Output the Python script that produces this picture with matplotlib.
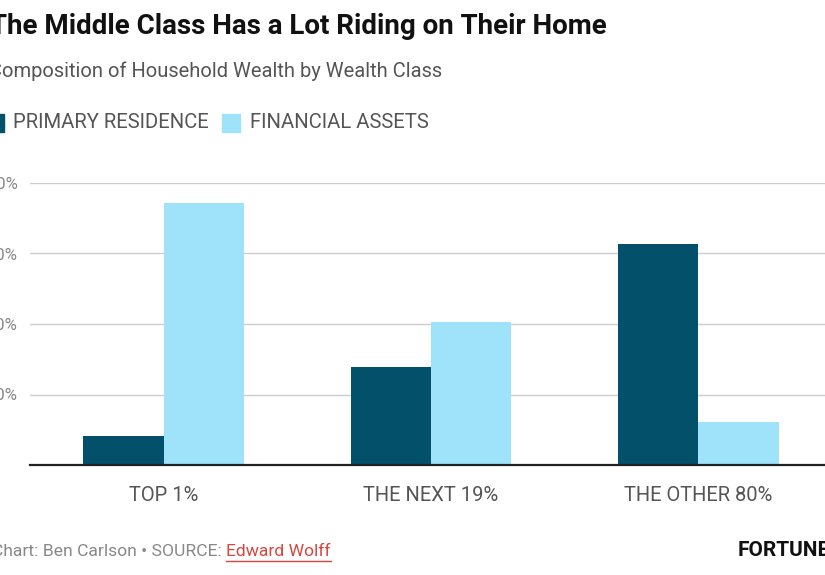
import matplotlib
matplotlib.use("Agg")
import matplotlib.pyplot as plt
import numpy as np

# data
groups = ["TOP 1%", "THE NEXT 19%", "THE OTHER 80%"]
primary_residence = [8.2, 27.8, 62.7]
financial_assets = [74.3, 40.6, 12.2]
y_ticks = [20, 40, 60, 80]
y_labels = ["20%", "40%", "60%", "80%"]

DARK = "#02506a"
LIGHT = "#9fe3fa"
FONT = "Roboto"
W, H = 825, 575


def px(x):
    return x / W


def py(y):
    return 1 - y / H


fig = plt.figure(figsize=(W / 100, H / 100), dpi=100)
ax = fig.add_axes([px(30), py(465), (832 - 30) / W, (465 - 183) / H])

x = np.arange(len(groups))
bw = 0.3
ax.bar(x - bw / 2, primary_residence, bw, color=DARK, zorder=3)
ax.bar(x + bw / 2, financial_assets, bw, color=LIGHT, zorder=3)

ax.set_xlim(-0.5, 2.5)
ax.set_ylim(0, 80)
ax.set_yticks(y_ticks, y_labels)
ax.set_xticks(x, groups)
ax.grid(axis="y", color="#cccccc", lw=1, zorder=0)
for s in ["top", "right", "left"]:
    ax.spines[s].set_visible(False)
ax.spines["bottom"].set_color("#222222")
ax.spines["bottom"].set_linewidth(1.6)
ax.spines["bottom"].set_zorder(4)
ax.tick_params(axis="y", length=0, pad=9, labelsize=12, labelcolor="#888888")
ax.tick_params(axis="x", length=0, pad=15, labelsize=14.5, labelcolor="#555555")
for lab in ax.get_xticklabels() + ax.get_yticklabels():
    lab.set_family(FONT)

# titles, partly cut off at the left edge like the reference
fig.text(px(-10), py(26), "The Middle Class Has a Lot Riding on Their Home",
         fontsize=20, fontweight="bold", family=FONT, color="#111111", va="center")
fig.text(px(-11), py(71), "Composition of Household Wealth by Wealth Class",
         fontsize=14.5, family=FONT, color="#555555", va="center")

# legend
fig.patches.append(plt.Rectangle((px(-14), py(132)), px(18), 18 / H,
                                 color=DARK, transform=fig.transFigure))
fig.text(px(13), py(123), "PRIMARY RESIDENCE", fontsize=14.6, family=FONT,
         color="#555555", va="center")
fig.patches.append(plt.Rectangle((px(222), py(132)), px(18), 18 / H,
                                 color=LIGHT, transform=fig.transFigure))
fig.text(px(250), py(123), "FINANCIAL ASSETS", fontsize=14.6, family=FONT,
         color="#555555", va="center")

# footer
t = fig.text(px(-8), py(551), "Chart: Ben Carlson \u2022 SOURCE: ", fontsize=12.6,
             family=FONT, color="#888888", va="center")
fig.canvas.draw()
bb = t.get_window_extent()
link = fig.text(bb.x1 / W, py(551), "Edward Wolff", fontsize=12.6, family=FONT,
                color="#d9463e", va="center")
fig.canvas.draw()
lb = link.get_window_extent()
fig.add_artist(plt.Line2D([lb.x0 / W, lb.x1 / W], [py(561), py(561)],
                          color="#d9463e", lw=1))
fig.text(px(738), py(551), "FORTUNE", fontsize=15, fontweight="bold",
         family=FONT, color="#111111", va="center")

fig.savefig("out.png", dpi=100)
